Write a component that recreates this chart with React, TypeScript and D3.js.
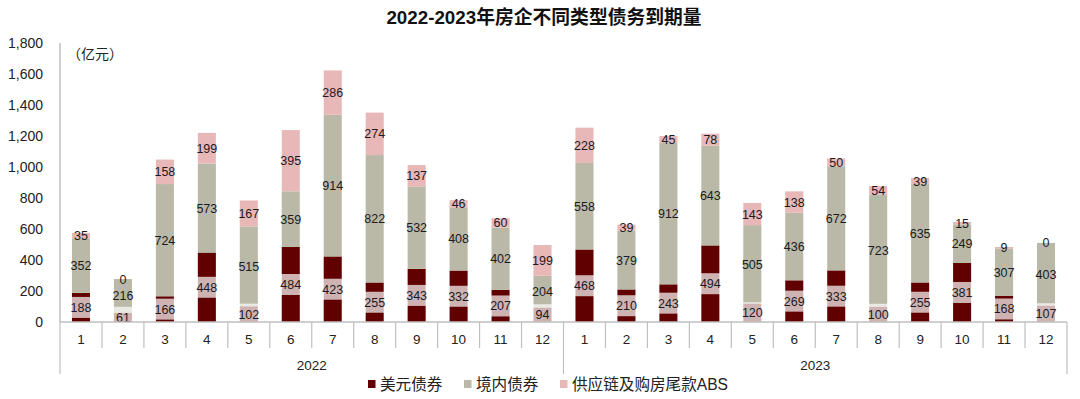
import React from "react";
import * as d3 from "d3";

const years = ["2022", "2023"];
const months = ["1", "2", "3", "4", "5", "6", "7", "8", "9", "10", "11", "12"];
const usdBond = [188, 61, 166, 448, 102, 484, 423, 255, 343, 332, 207, 94, 468, 210, 243, 494, 120, 269, 333, 100, 255, 381, 168, 107];
const domesticBond = [352, 216, 724, 573, 515, 359, 914, 822, 532, 408, 402, 204, 558, 379, 912, 643, 505, 436, 672, 723, 635, 249, 307, 403];
const absBond = [35, 0, 158, 199, 167, 395, 286, 274, 137, 46, 60, 199, 228, 39, 45, 78, 143, 138, 50, 54, 39, 15, 9, 0];
const yTicks = [0, 200, 400, 600, 800, 1000, 1200, 1400, 1600, 1800];
const seriesNames = ["美元债券", "境内债券", "供应链及购房尾款ABS"];
const colors = ["#600000", "#bab8a6", "#e8b7b7"];

const W = 1080;
const H = 399;
const margin = { left: 60, right: 13, top: 43, bottom: 77 };
const font = "Arial, 'Liberation Sans', 'Noto Sans CJK SC', sans-serif";

export default function App() {
  const keys = years.flatMap((y) => months.map((m) => `${y}-${m}`));
  const rows = keys.map((k, i) => ({ key: k, usd: usdBond[i], dom: domesticBond[i], abs: absBond[i] }));
  const stack = d3.stack<any>().keys(["usd", "dom", "abs"])(rows);

  const x = d3.scaleBand().domain(keys).range([margin.left, W - margin.right]).paddingInner(0.57).paddingOuter(0.285);
  const band = d3.scaleBand().domain(keys).range([margin.left, W - margin.right]);
  const y = d3.scaleLinear().domain([0, 1800]).range([H - margin.bottom, margin.top]);
  const y0 = y(0);
  const bw = x.bandwidth();
  const step = band.bandwidth();

  return (
    <svg width={W} height={H} style={{ position: "absolute", left: 0, top: 0, background: "#fff" }} fontFamily={font}>
      <text x={544} y={24} textAnchor="middle" fontSize={18.8} fontWeight="bold" fill="#111">
        2022-2023年房企不同类型债务到期量
      </text>
      {yTicks.map((t) => (
        <text key={t} x={43} y={y(t) + 5} textAnchor="end" fontSize={14} fill="#222">
          {d3.format(",")(t)}
        </text>
      ))}
      <text x={67} y={59} fontSize={14} fill="#222">（亿元）</text>

      {stack.map((s, si) =>
        s.map((d, i) => (
          <rect key={`${si}-${i}`} x={x(keys[i])} width={bw} y={y(d[1])} height={Math.max(0, y(d[0]) - y(d[1]))} fill={colors[si]} />
        ))
      )}

      {/* labels */}
      {stack.map((s, si) =>
        s.map((d, i) => {
          const cx = (x(keys[i]) as number) + bw / 2;
          const cy = (y(d[0]) + y(d[1])) / 2;
          const v = d[1] - d[0];
          return (
            <g key={`l${si}-${i}`}>
              {si === 0 && (
                <rect x={cx - 10.5} y={cy - 10.5} width={21} height={21} fill="#fff" fillOpacity={0.7} />
              )}
              <text x={cx} y={cy + 4.5} textAnchor="middle" fontSize={12.5} fill="#1a1a24">
                {v}
              </text>
            </g>
          );
        })
      )}

      {/* axes */}
      <line x1={margin.left} x2={margin.left} y1={margin.top} y2={y0} stroke="#bfbfbf" strokeWidth={1.5} />
      <line x1={margin.left} x2={W - margin.right} y1={y0} y2={y0} stroke="#bfbfbf" strokeWidth={1.5} />
      {keys.map((k, i) => {
        const bx = band(k) as number;
        const long = i % 12 === 0;
        return (
          <line key={`t${k}`} x1={bx} x2={bx} y1={y0} y2={long ? 374 : 348} stroke="#bfbfbf" strokeWidth={1.2} />
        );
      })}
      <line x1={W - margin.right} x2={W - margin.right} y1={y0} y2={374} stroke="#bfbfbf" strokeWidth={1.2} />
      {keys.map((k, i) => (
        <text key={`c${k}`} x={(band(k) as number) + step / 2} y={344} textAnchor="middle" fontSize={13.5} fill="#222">
          {months[i % 12]}
        </text>
      ))}
      {years.map((yr, i) => (
        <text key={yr} x={margin.left + (W - margin.left - margin.right) * (i * 2 + 1) / 4} y={370} textAnchor="middle" fontSize={13.5} fill="#222">
          {yr}
        </text>
      ))}

      {/* legend */}
      {[368, 464, 560].map((lx, i) => (
        <g key={`lg${i}`}>
          <rect x={lx} y={380} width={7.5} height={8} fill={colors[i]} />
          <text x={lx + 12} y={389.5} fontSize={15.6} fill="#222">{seriesNames[i]}</text>
        </g>
      ))}
    </svg>
  );
}
